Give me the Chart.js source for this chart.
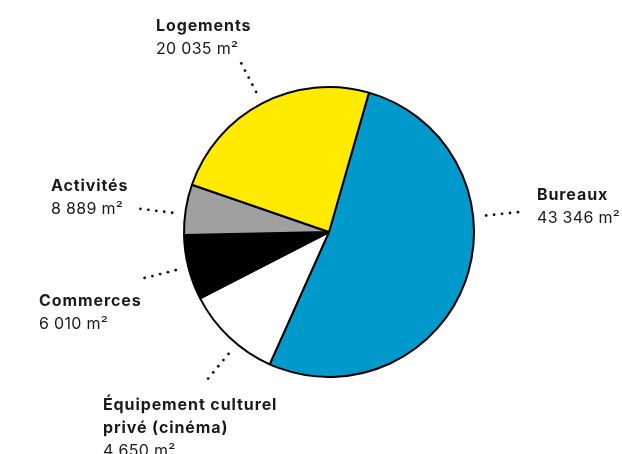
<!DOCTYPE html>
<html lang="fr">
<head>
<meta charset="utf-8">
<script src="https://cdn.jsdelivr.net/npm/chart.js@4/dist/chart.umd.min.js"></script>
<style>
  html, body { margin: 0; padding: 0; background: #fff; }
  #wrap { width: 622px; height: 454px; position: relative; }
</style>
</head>
<body>
<div id="wrap"><canvas id="chart" width="622" height="454"></canvas></div>
<script>
// ===============================
// Données (surfaces en m²)
// ===============================

// Valeurs des parts, dans l'ordre horaire à partir du bleu
const surfaces = [43346, 8889, 6010, 4650, 20035];

// Libellés affichés à côté de chaque part (même ordre)
const labelNames = [
    ["Bureaux"],
    ["Équipement culturel", "privé (cinéma)"],
    ["Commerces"],
    ["Activités"],
    ["Logements"]
];
const labelValues = ["43 346 m²", "4 650 m²", "6 010 m²", "8 889 m²", "20 035 m²"];

// Couleurs des parts
const couleurs = ["#0099cc", "#ffffff", "#000000", "#a0a0a0", "#ffea00"];

// ===============================
// Placement des étiquettes
// ===============================
const placement = [
    { x: 537, y: 200, angle: 84 },
    { x: 103, y: 410, angle: 219.5 },
    { x: 39, y: 306, angle: 256 },
    { x: 51, y: 191, angle: 277 },
    { x: 156, y: 31 }
];

// Plugin : pointillés + textes
const etiquettes = {
    id: "etiquettes",
    afterDraw(chart) {
        const ctx = chart.ctx;
        const arcs = chart.getDatasetMeta(0).data;
        ctx.save();
        arcs.forEach((arc, i) => {
            const p = placement[i];
            const mid = p.angle !== undefined
                ? (p.angle - 90) * Math.PI / 180
                : (arc.startAngle + arc.endAngle) / 2;
            // Pointillés
            ctx.fillStyle = "#111";
            for (let k = 0; k < 5; k++) {
                const r = arc.outerRadius + 13 + k * 8;
                ctx.beginPath();
                ctx.arc(arc.x + Math.cos(mid) * r, arc.y + Math.sin(mid) * r, 1.4, 0, Math.PI * 2);
                ctx.fill();
            }
            // Texte
            ctx.fillStyle = "#1a1a1a";
            ctx.textAlign = "left";
            ctx.textBaseline = "alphabetic";
            let y = p.y;
            ctx.font = "bold 16px Inter";
            ctx.letterSpacing = "0.9px";
            labelNames[i].forEach(l => { ctx.fillText(l, p.x, y); y += 23; });
            ctx.font = "16px Inter";
            ctx.letterSpacing = "0.3px";
            ctx.fillText(labelValues[i], p.x, y);
        });
        ctx.restore();
    }
};

new Chart(document.getElementById("chart"), {
    type: "pie",
    data: {
        labels: labelNames.map(n => n.join(" ")),
        datasets: [{
            data: surfaces,
            backgroundColor: couleurs,
            borderColor: "#000",
            borderWidth: 2
        }]
    },
    options: {
        responsive: false,
        animation: false,
        rotation: 16,
        layout: { padding: { left: 183, right: 147, top: 86, bottom: 76 } },
        plugins: {
            legend: { display: false },
            tooltip: { enabled: false }
        }
    },
    plugins: [etiquettes]
});
</script>
</body>
</html>
